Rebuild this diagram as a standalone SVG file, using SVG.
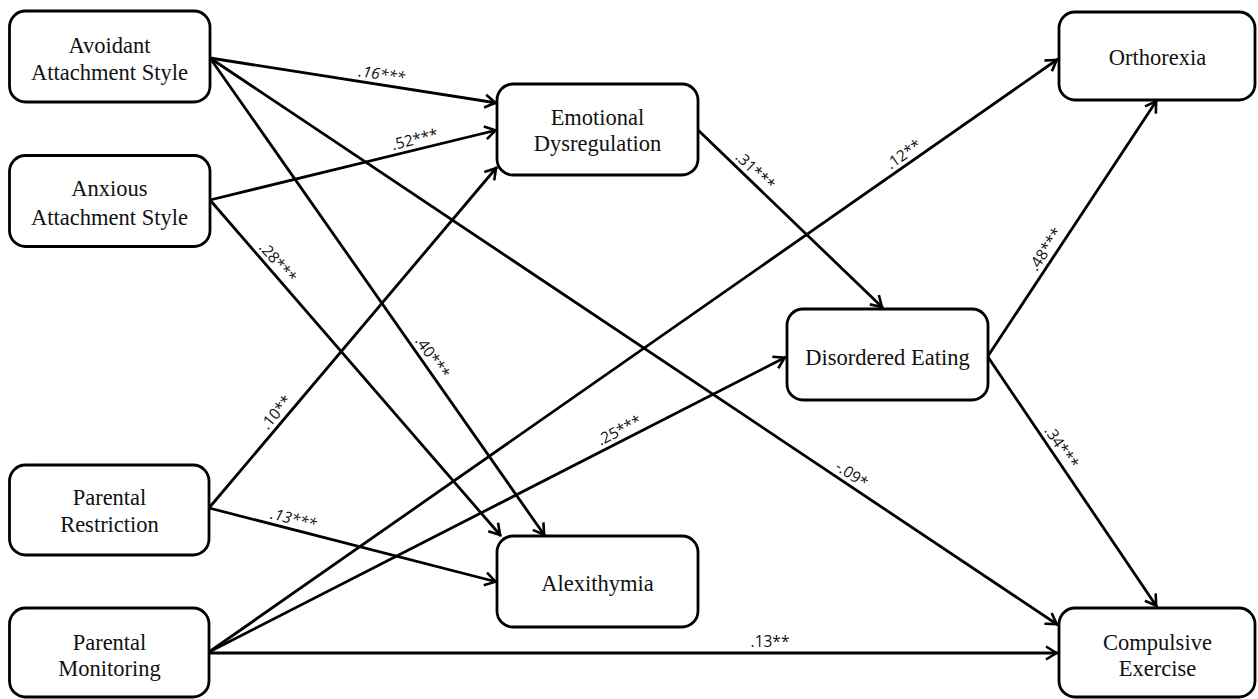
<svg xmlns="http://www.w3.org/2000/svg" width="1258" height="699" viewBox="0 0 1258 699">
<style>
.box{fill:#fff;stroke:#000;stroke-width:2.8}
.nt{font-family:"Liberation Serif","Times New Roman",serif;font-size:22.5px;fill:#111;text-anchor:middle}
.ln{fill:none;stroke:#000;stroke-width:2.8}
.lb{font-family:"Open Sans","Liberation Sans",sans-serif;font-size:15.5px;fill:#111;text-anchor:middle}
.it{font-style:italic}
</style>
<defs>
<marker id="arr" viewBox="-14 -8 17 16" refX="0" refY="0" markerWidth="17" markerHeight="16" markerUnits="userSpaceOnUse" orient="auto">
<path d="M-12,-6.5 L-1.5,0 L-12,6.5" fill="none" stroke="#000" stroke-width="2.6"/>
</marker>
</defs>
<rect width="1258" height="699" fill="#fff"/>
<g id="connectors">
<line class="ln" x1="210" y1="58" x2="497" y2="103" marker-end="url(#arr)"/>
<line class="ln" x1="210" y1="200" x2="497" y2="130" marker-end="url(#arr)"/>
<line class="ln" x1="210" y1="58" x2="545" y2="536" marker-end="url(#arr)"/>
<line class="ln" x1="210" y1="58" x2="1058" y2="625" marker-end="url(#arr)"/>
<line class="ln" x1="210" y1="200" x2="501" y2="536" marker-end="url(#arr)"/>
<line class="ln" x1="209" y1="508" x2="497" y2="167" marker-end="url(#arr)"/>
<line class="ln" x1="209" y1="508" x2="497" y2="582" marker-end="url(#arr)"/>
<line class="ln" x1="209" y1="652" x2="1058" y2="59" marker-end="url(#arr)"/>
<line class="ln" x1="209" y1="652" x2="786" y2="357" marker-end="url(#arr)"/>
<line class="ln" x1="209" y1="653" x2="1058" y2="653" marker-end="url(#arr)"/>
<line class="ln" x1="698" y1="130" x2="883" y2="308" marker-end="url(#arr)"/>
<line class="ln" x1="988" y1="356" x2="1157" y2="100" marker-end="url(#arr)"/>
<line class="ln" x1="988" y1="357" x2="1157" y2="607" marker-end="url(#arr)"/>
<text class="lb it" transform="translate(380.3,84.7) rotate(8.91)" y="-5">.16***</text>
<text class="lb" transform="translate(417.3,149.4) rotate(-13.71)" y="-5">.52***</text>
<text class="lb" transform="translate(424,363) rotate(54.97)" y="-5">.40***</text>
<text class="lb" transform="translate(846,483) rotate(33.77)" y="-5">-.09*</text>
<text class="lb" transform="translate(270,269) rotate(49.1)" y="-5">.28***</text>
<text class="lb" transform="translate(284,419) rotate(-49.8)" y="-5">.10**</text>
<text class="lb it" transform="translate(291,529) rotate(14.4)" y="-5">.13***</text>
<text class="lb" transform="translate(909.5,162.8) rotate(-34.93)" y="-5">.12**</text>
<text class="lb" transform="translate(624,439.5) rotate(-27.12)" y="-5">.25***</text>
<text class="lb" x="770" y="647">.13**</text>
<text class="lb" transform="translate(748,178) rotate(44.06)" y="-5">.31***</text>
<text class="lb" transform="translate(1054,255) rotate(-56.57)" y="-5">.48***</text>
<text class="lb" transform="translate(1053,453) rotate(55.94)" y="-5">.34***</text>
</g>
<g id="avoidant">
<rect class="box" x="9.5" y="11" width="200.5" height="91" rx="16"/>
<text class="nt" x="109.5" y="52.5">Avoidant</text>
<text class="nt" x="109.5" y="79.5">Attachment Style</text>
</g>
<g id="anxious">
<rect class="box" x="9.5" y="155.5" width="200.5" height="91" rx="16"/>
<text class="nt" x="109.5" y="195.5">Anxious</text>
<text class="nt" x="109.5" y="224.5">Attachment Style</text>
</g>
<g id="restriction">
<rect class="box" x="9.5" y="465" width="199.5" height="90" rx="16"/>
<text class="nt" x="109.5" y="504.5">Parental</text>
<text class="nt" x="109.5" y="531.5">Restriction</text>
</g>
<g id="monitoring">
<rect class="box" x="9.5" y="608" width="199.5" height="89" rx="16"/>
<text class="nt" x="109.5" y="649.5">Parental</text>
<text class="nt" x="109.5" y="675.5">Monitoring</text>
</g>
<g id="emotional">
<rect class="box" x="497" y="84" width="201" height="91" rx="16"/>
<text class="nt" x="597.5" y="124.5">Emotional</text>
<text class="nt" x="597.5" y="150.5">Dysregulation</text>
</g>
<g id="alexithymia">
<rect class="box" x="497" y="536" width="201" height="91" rx="16"/>
<text class="nt" x="597.5" y="590.5">Alexithymia</text>
</g>
<g id="disordered">
<rect class="box" x="787" y="309" width="201" height="91" rx="16"/>
<text class="nt" x="887.5" y="364.5">Disordered Eating</text>
</g>
<g id="orthorexia">
<rect class="box" x="1059" y="12" width="196" height="88" rx="16"/>
<text class="nt" x="1157.5" y="64.5">Orthorexia</text>
</g>
<g id="compulsive">
<rect class="box" x="1059" y="608" width="196" height="89" rx="16"/>
<text class="nt" x="1157.5" y="649.5">Compulsive</text>
<text class="nt" x="1157.5" y="675.5">Exercise</text>
</g>
</svg>
